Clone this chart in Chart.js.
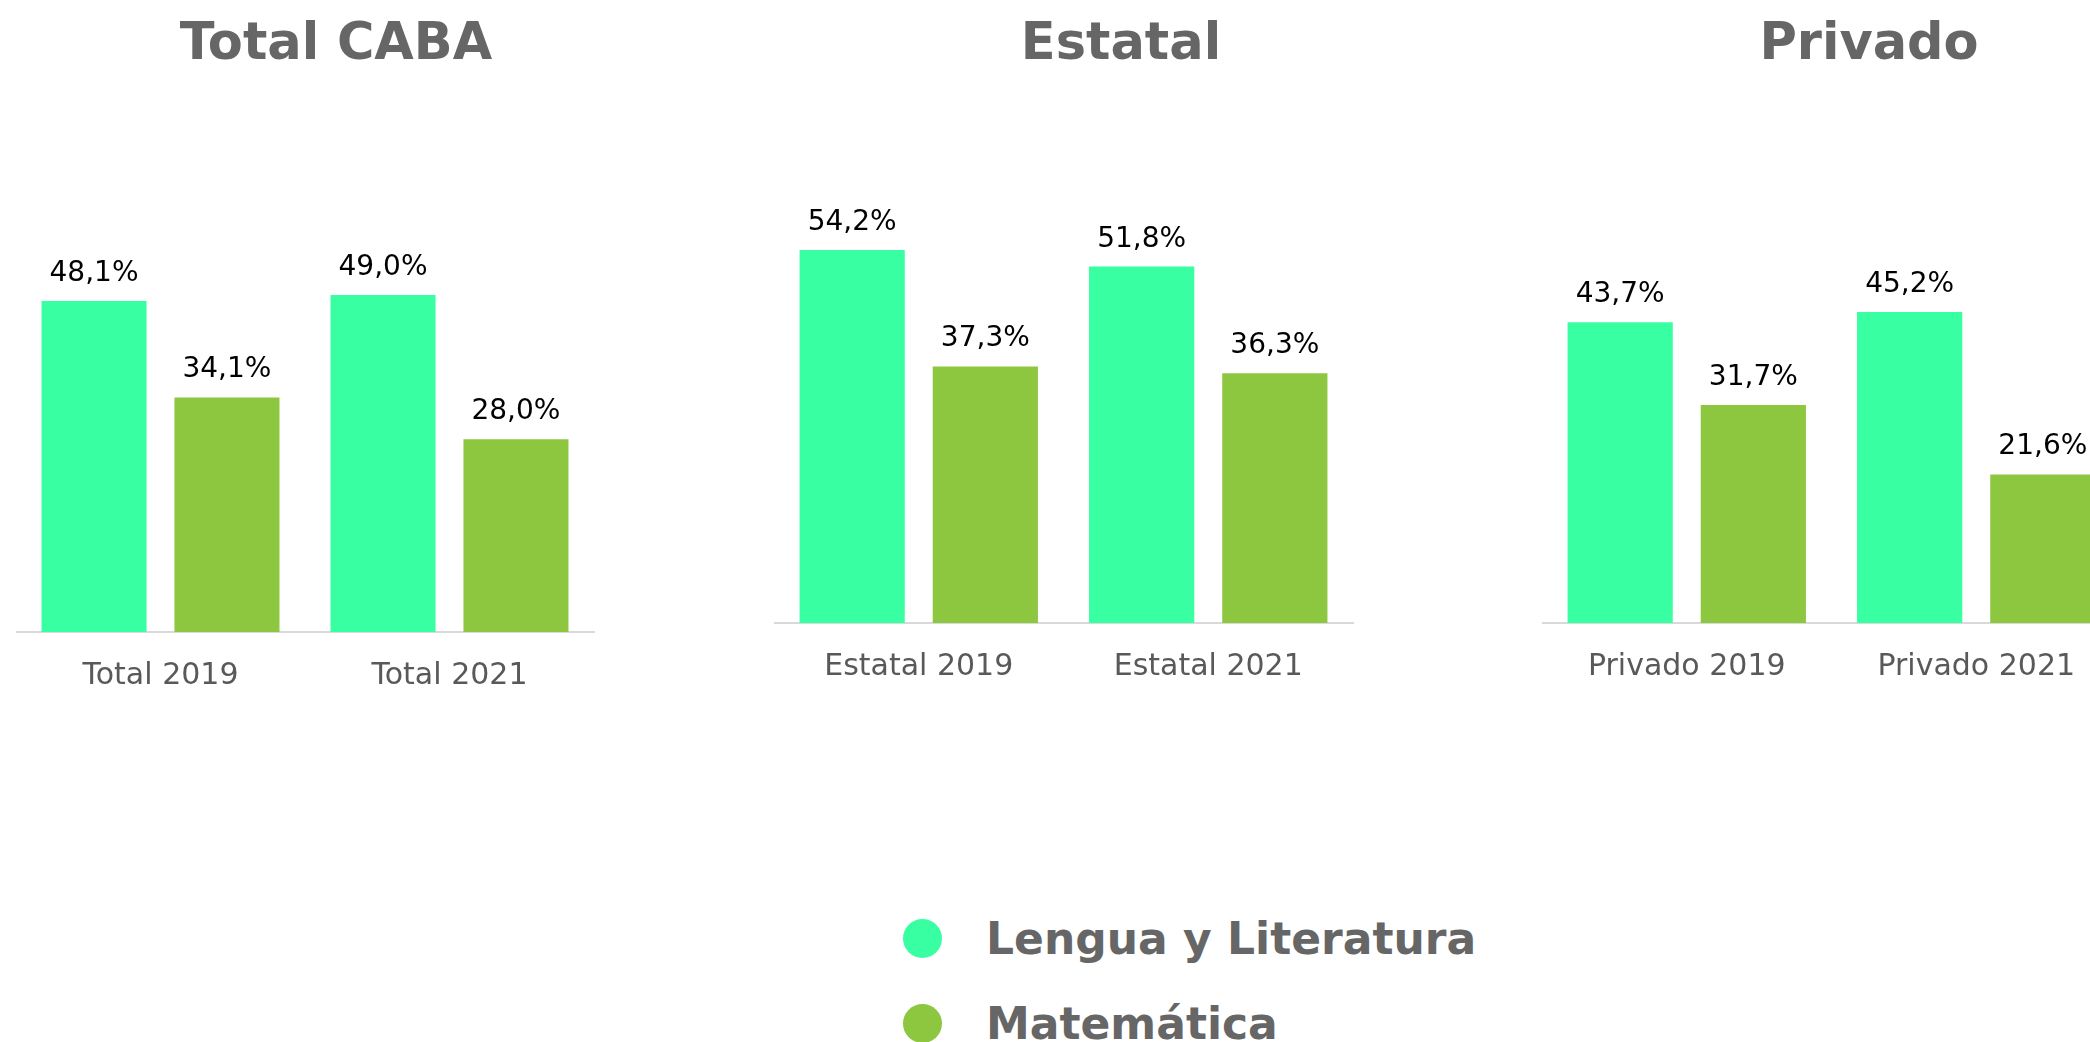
<!DOCTYPE html>
<html>
<head>
<meta charset="utf-8">
<script src="https://cdn.jsdelivr.net/npm/chart.js@4.4.1/dist/chart.umd.min.js"></script>
<style>
  html, body { margin: 0; padding: 0; background: #fff; overflow: hidden; }
  #wrap { position: relative; width: 2090px; height: 1042px; overflow: hidden; }
  canvas { position: absolute; top: 0; }
  #legend { position: absolute; left: 903px; top: 896px; }
  .lg-item { display: flex; align-items: center; height: 85px; }
  .lg-dot { width: 39px; height: 39px; border-radius: 50%; margin-right: 44px; }
  .lg-text { font: bold 44px 'DejaVu Sans', sans-serif; color: #666; line-height: 1; }
</style>
</head>
<body>
<div id="wrap">
  <canvas id="chart-total" width="640" height="727" style="left:16px"></canvas>
  <canvas id="chart-estatal" width="694" height="726" style="left:774px"></canvas>
  <canvas id="chart-privado" width="654" height="726" style="left:1542px"></canvas>
  <div id="legend"></div>
</div>

<script>
// ===== DATA =====
const SERIES_NAMES = ['Lengua y Literatura', 'Matemática'];
const PANEL_TITLES = ['Total CABA', 'Estatal', 'Privado'];

const totalLabels = ['Total 2019', 'Total 2021'];
const totalLengua = [48.1, 49.0];
const totalMate = [34.1, 28.0];

const estatalLabels = ['Estatal 2019', 'Estatal 2021'];
const estatalLengua = [54.2, 51.8];
const estatalMate = [37.3, 36.3];

const privadoLabels = ['Privado 2019', 'Privado 2021'];
const privadoLengua = [43.7, 45.2];
const privadoMate = [31.7, 21.6];

const COLORS = ['#37FFA2', '#8DC63F'];
const FONT = "'DejaVu Sans', sans-serif";

// value labels above each bar, "48,1%"
const valueLabels = {
  id: 'valueLabels',
  afterDatasetsDraw(chart) {
    const ctx = chart.ctx;
    ctx.save();
    ctx.font = '28px ' + FONT;
    ctx.fillStyle = '#000';
    ctx.textAlign = 'center';
    ctx.textBaseline = 'alphabetic';
    chart.data.datasets.forEach((ds, i) => {
      chart.getDatasetMeta(i).data.forEach((bar, j) => {
        const txt = ds.data[j].toFixed(1).replace('.', ',') + '%';
        ctx.fillText(txt, bar.x, bar.y - 20);
      });
    });
    ctx.restore();
  }
};

// legend as html, stacked like the original
const htmlLegend = {
  id: 'htmlLegend',
  afterUpdate(chart) {
    const box = document.getElementById('legend');
    const items = chart.options.plugins.legend.labels.generateLabels(chart);
    box.innerHTML = items.map(it => `
      <div class="lg-item">
        <div class="lg-dot" style="background:${it.fillStyle}"></div>
        <div class="lg-text">${it.text}</div>
      </div>
    `).join('');
  }
};

function makePanel(id, title, labels, lengua, mate, titleGap, padBottom, gapRight, plugins) {
  const ctx = document.getElementById(id).getContext('2d');
  return new Chart(ctx, {
    type: 'bar',
    data: {
      labels,
      datasets: [
        { label: SERIES_NAMES[0], data: lengua, backgroundColor: COLORS[0] },
        { label: SERIES_NAMES[1], data: mate, backgroundColor: COLORS[1] },
      ]
    },
    options: {
      responsive: false,
      animation: false,
      devicePixelRatio: 1,
      categoryPercentage: 0.92,
      barPercentage: 0.79,
      layout: { padding: { left: 0, right: 0, top: 0, bottom: padBottom } },
      plugins: {
        legend: { display: false },
        tooltip: { enabled: false },
        title: {
          display: true,
          text: title,
          color: '#666666',
          font: { family: FONT, size: 51, weight: 'bold' },
          padding: { top: 15, bottom: titleGap }
        }
      },
      scales: {
        x: {
          grid: { display: false, drawTicks: false },
          border: { display: true, color: '#d9d9d9', width: 2 },
          ticks: { color: '#595959', font: { family: FONT, size: 30 }, padding: 26 }
        },
        // invisible axis on the right, only to leave room so the title sits off-centre like the original
        y: {
          position: 'right',
          min: 0,
          max: 60,
          grid: { display: false },
          border: { display: false },
          ticks: { display: false },
          afterFit(scale) { scale.width = gapRight; }
        }
      }
    },
    plugins: [valueLabels].concat(plugins || [])
  });
}

makePanel('chart-total', PANEL_TITLES[0], totalLabels, totalLengua, totalMate, 143, 7, 62);
makePanel('chart-estatal', PANEL_TITLES[1], estatalLabels, estatalLengua, estatalMate, 134, 15, 115, [htmlLegend]);
makePanel('chart-privado', PANEL_TITLES[2], privadoLabels, privadoLengua, privadoMate, 134, 15, 75);
</script>
</body>
</html>
